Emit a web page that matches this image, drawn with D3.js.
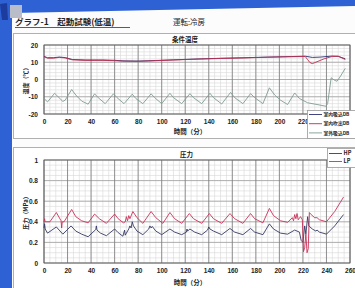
<!DOCTYPE html>
<html>
<head>
<meta charset="utf-8">
<script src="https://cdn.jsdelivr.net/npm/d3@7"></script>
<style>
  body { margin: 0; background: #fff; }
  svg { display: block; }
  text { font-family: "Noto Sans CJK JP", "Liberation Sans", sans-serif; fill: #222; }
</style>
</head>
<body>
<script>
const width = 355;
const height = 288;

// time axis (minutes)
const xTicks = [0, 20, 40, 60, 80, 100, 120, 140, 160, 180, 200, 220, 240, 260];

// temperature chart
const tempTicks = [20, 10, 0, -10, -20];
const tempTickLabels = ["20", "10", "0", "-10", "-20"];
const tempNames = ["室内吸込DB", "室内吹出DB", "室外吸込DB"];

const inletDB = [[0,13.4],[3,12.6],[8,12.6],[13,13],[18,12.7],[24,11.6],[35,11.3],[50,11.3],[60,11.1],[68,10.8],
  [80,10.7],[95,11],[110,11.4],[130,11.9],[150,12.3],[170,12.6],[190,13],[210,13.3],[222,13.5],[228,12.8],
  [235,13],[245,13.6],[250,13.4],[256,12]];
const outletDB = [[0,13.2],[3,12.4],[8,12.4],[13,12.8],[18,12.5],[24,11.4],[35,11.1],[50,11.1],[60,10.9],[68,10.6],
  [80,10.5],[95,10.9],[110,11.3],[130,11.8],[150,12.2],[170,12.5],[190,12.9],[210,13.2],[222,13.3],[224,11.5],
  [226,9.8],[228,9.2],[232,10.3],[238,12],[244,13.2],[250,13.5],[256,11.6]];
const outdoorDB = [[0,-11],[3,-13],[9,-8],[12,-10],[16,-12.7],[18,-12],[23.5,-5.8],[27,-9],[32,-12.5],[37.5,-14.3],
  [43,-8.3],[46,-10.5],[52,-14],[59,-8.3],[62,-10.5],[68,-14],[75,-8.5],[78,-11],[84,-14],[91,-8.3],
  [94,-10.5],[100,-14],[107,-8],[110,-10.5],[117,-14],[124,-8.2],[127,-10.5],[134,-14],[141,-8],[144,-10.5],
  [151,-14.2],[158.5,-7.5],[162,-10.5],[169,-14],[175.5,-8.2],[179,-10.5],[186,-14],[191.5,-4.8],[196,-9],[201,-12],
  [207,-14.5],[213,-7.8],[217,-11],[224,-13.5],[232,-14.5],[239.5,-15.5],[241,-14],[244,1],[247,-0.5],[249,-1],
  [252,2],[256,6.5]];

// pressure chart
const pressTicks = [1, 0.8, 0.6, 0.4, 0.2, 0];
const pressTickLabels = ["1", "0.8", "0.6", "0.4", "0.2", "0"];
const pressNames = ["HP", "LP"];

const hp = [[0,0.34],[0.5,0.38],[1,0.33],[3,0.29],[10.5,0.35],[16,0.28],[23,0.36],[27,0.31],[32,0.28],[37.5,0.255],
  [44,0.325],[44.5,0.36],[45,0.32],[48,0.29],[53,0.265],[60,0.33],[63,0.295],[67,0.26],[68.5,0.32],[69,0.27],
  [72,0.33],[73,0.36],[74,0.34],[75,0.40],[76,0.36],[79,0.31],[84,0.275],[89,0.33],[90,0.36],[91,0.34],
  [92,0.355],[95,0.31],[100,0.275],[107,0.33],[111,0.30],[117,0.275],[121,0.30],[121.5,0.33],[122,0.31],[124,0.33],
  [128,0.30],[134,0.275],[139,0.32],[140,0.35],[141,0.33],[144,0.31],[151,0.275],[158,0.335],[162,0.30],[169,0.275],
  [175.5,0.335],[179,0.30],[186,0.275],[191.5,0.38],[195,0.33],[201,0.29],[207,0.28],[213,0.32],[217,0.30],[218.5,0.22],
  [220,0.20],[221.5,0.36],[222.5,0.28],[224,0.45],[225,0.36],[228,0.33],[231,0.31],[232,0.32],[234,0.30],[240,0.28],
  [247,0.36],[254.5,0.47]];
const lp = [[0,0.40],[0.5,0.43],[1,0.40],[5,0.40],[10.5,0.49],[14.5,0.41],[15,0.34],[15.5,0.40],[17,0.40],[23.5,0.52],
  [27,0.45],[32,0.41],[37.5,0.39],[43,0.475],[47,0.43],[53,0.385],[60,0.475],[63,0.43],[67.5,0.39],[69,0.40],
  [70,0.45],[71,0.41],[72,0.46],[73,0.43],[75.5,0.50],[79,0.44],[84,0.385],[91,0.50],[95,0.44],[101,0.385],
  [107,0.49],[111,0.43],[117,0.385],[123.5,0.48],[127,0.43],[134,0.385],[140.5,0.48],[144,0.43],[151,0.385],[158,0.48],
  [162,0.43],[169,0.385],[175.5,0.48],[179,0.43],[186,0.39],[191.5,0.53],[195,0.46],[201,0.41],[207,0.395],[211,0.44],
  [212,0.41],[213,0.47],[214,0.43],[215,0.48],[216,0.42],[218,0.45],[219.5,0.42],[220.5,0.11],[221.5,0.15],[222.5,0.28],
  [223.5,0.10],[224.5,0.14],[225.5,0.49],[227,0.47],[230,0.44],[232,0.44],[234,0.42],[240,0.40],[247,0.5],[254.5,0.64]];

let svg = d3.select("body")
  .append("svg")
    .attr("width", width)
    .attr("height", height);

// scanned page: blue desktop behind a white sheet
svg.append("rect").attr("width", width).attr("height", height).attr("fill", "#2d61d4");
svg.append("path").attr("d", "M12,13 L355,6 L355,288 L12,288 Z").attr("fill", "#fcfcfc");
svg.append("path").attr("d", "M0,4 L7,3 L8,20 L2,20 Z").attr("fill", "#1c3d9e");
svg.append("rect").attr("x", 10).attr("y", 5).attr("width", 12).attr("height", 13).attr("fill", "#b9bdc9");

svg.append("text").attr("x", 15).attr("y", 25)
  .style("font-size", "8.5px").style("font-weight", "bold").text("グラフ-1　起動試験(低温)");
svg.append("line").attr("x1", 15).attr("x2", 130).attr("y1", 27.5).attr("y2", 27.5)
  .attr("stroke", "#333").attr("stroke-width", 0.8);
svg.append("text").attr("x", 173).attr("y", 25)
  .style("font-size", "7.5px").text("運転:冷房");

let x = d3.scaleLinear().domain([0, 260]).range([44, 350]);

function drawChart(opt) {
  let g = svg.append("g");

  g.append("rect")
    .attr("x", 13.5).attr("y", opt.frame[0] + 0.5)
    .attr("width", 345).attr("height", opt.frame[1] - opt.frame[0])
    .attr("fill", "#fff").attr("stroke", "#b0b0b0");

  let y = d3.scaleLinear().domain(opt.domain).range(opt.range);

  // minor grid
  g.append("g").selectAll("line").data(d3.range(0, 261, 5)).enter().append("line")
    .attr("x1", d => x(d)).attr("x2", d => x(d))
    .attr("y1", opt.range[0]).attr("y2", opt.range[1])
    .attr("stroke", "#d6d6d6").attr("stroke-width", 0.6);
  g.append("g").selectAll("line").data(d3.range(opt.domain[0], opt.domain[1] + opt.minor / 2, opt.minor)).enter().append("line")
    .attr("x1", x(0)).attr("x2", x(260))
    .attr("y1", d => y(d)).attr("y2", d => y(d))
    .attr("stroke", "#d6d6d6").attr("stroke-width", 0.6);

  // major grid
  g.append("g").selectAll("line").data(opt.yTicks).enter().append("line")
    .attr("x1", x(0)).attr("x2", x(260))
    .attr("y1", d => y(d)).attr("y2", d => y(d))
    .attr("stroke", "#9a9a9a").attr("stroke-width", 0.7);
  g.append("g").selectAll("line").data(xTicks).enter().append("line")
    .attr("x1", d => x(d)).attr("x2", d => x(d))
    .attr("y1", opt.range[0]).attr("y2", opt.range[1])
    .attr("stroke", "#7a7a7a").attr("stroke-width", 0.8);

  g.append("rect")
    .attr("x", x(0)).attr("y", opt.range[1])
    .attr("width", x(260) - x(0)).attr("height", opt.range[0] - opt.range[1])
    .attr("fill", "none").attr("stroke", "#555").attr("stroke-width", 0.8);

  // axes (labels hidden behind the legend are left out)
  let xAxis = g.append("g")
    .attr("transform", "translate(0," + opt.range[0] + ")")
    .call(d3.axisBottom(x).tickValues(xTicks.filter(d => d <= opt.xLabelMax)).tickSize(0).tickPadding(5));
  xAxis.select(".domain").remove();
  xAxis.selectAll("text").style("font-size", "6.5px").style("font-weight", "bold")
    .style("font-family", "Liberation Sans, sans-serif").attr("fill", "#222");

  let yAxis = g.append("g")
    .attr("transform", "translate(" + x(0) + ",0)")
    .call(d3.axisLeft(y).tickValues(opt.yTicks).tickSize(0).tickPadding(6)
      .tickFormat((d, i) => opt.yLabels[i]));
  yAxis.select(".domain").remove();
  yAxis.selectAll("text").style("font-size", "6.5px").style("font-weight", "bold")
    .style("font-family", "Liberation Sans, sans-serif").attr("fill", "#222");

  g.append("text")
    .attr("transform", "translate(26," + (opt.range[0] + opt.range[1]) / 2 + ") rotate(-90)")
    .attr("text-anchor", "middle").attr("dy", "0.35em")
    .style("font-size", "6px").style("font-weight", "bold").text(opt.yTitle);

  g.append("text")
    .attr("x", 190).attr("y", opt.xTitleY)
    .attr("text-anchor", "middle").attr("dy", "0.35em")
    .style("font-size", "6.5px").style("font-weight", "bold").text("時間（分）");

  g.append("text")
    .attr("x", opt.titleX).attr("y", opt.titleY)
    .attr("dy", "0.35em")
    .style("font-size", "6.5px").style("font-weight", "bold").text(opt.title);

  let line = d3.line()
    .x(d => x(d[0]))
    .y(d => y(d[1]));

  opt.series.forEach(s => {
    g.append("path")
      .datum(s.values)
      .attr("d", line)
      .attr("fill", "none")
      .attr("stroke", s.color)
      .attr("stroke-width", 0.9)
      .attr("stroke-linejoin", "round");
  });

  // legend
  let lg = opt.legend;
  g.append("rect")
    .attr("x", lg.x + 0.5).attr("y", lg.y + 0.5)
    .attr("width", lg.w).attr("height", lg.h)
    .attr("fill", "#fff").attr("stroke", "#9a9a9a").attr("stroke-width", 0.8);
  opt.series.forEach((s, i) => {
    let ly = lg.y + lg.first + i * lg.step;
    g.append("line")
      .attr("x1", lg.x + 2).attr("x2", lg.x + lg.sw)
      .attr("y1", ly).attr("y2", ly)
      .attr("stroke", s.color).attr("stroke-width", 0.9);
    g.append("text")
      .attr("x", lg.x + lg.sw + 1.5).attr("y", ly).attr("dy", "0.35em")
      .style("font-size", lg.font).style("font-weight", "bold").text(s.name);
  });
}

drawChart({
  frame: [33, 138],
  domain: [-20, 20], range: [114, 45], minor: 2,
  yTicks: tempTicks, yLabels: tempTickLabels, xLabelMax: 220,
  yTitle: "温度（℃）", xTitleY: 132,
  title: "条件温度", titleX: 172, titleY: 40,
  series: [
    { name: tempNames[0], values: inletDB, color: "#2b2f6e" },
    { name: tempNames[1], values: outletDB, color: "#c22d4e" },
    { name: tempNames[2], values: outdoorDB, color: "#7f9c8e" }
  ],
  legend: { x: 307, y: 110, w: 48, h: 28, first: 4.5, step: 9.2, sw: 15, font: "4.8px" }
});

drawChart({
  frame: [147, 292],
  domain: [0, 1], range: [263, 160], minor: 0.05,
  yTicks: pressTicks, yLabels: pressTickLabels, xLabelMax: 260,
  yTitle: "圧力（MPa）", xTitleY: 283,
  title: "圧力", titleX: 180, titleY: 155,
  series: [
    { name: pressNames[0], values: hp, color: "#353a62" },
    { name: pressNames[1], values: lp, color: "#c8325a" }
  ],
  legend: { x: 327, y: 148, w: 28, h: 19, first: 5.5, step: 8, sw: 15, font: "5.5px" }
});
</script>
</body>
</html>
